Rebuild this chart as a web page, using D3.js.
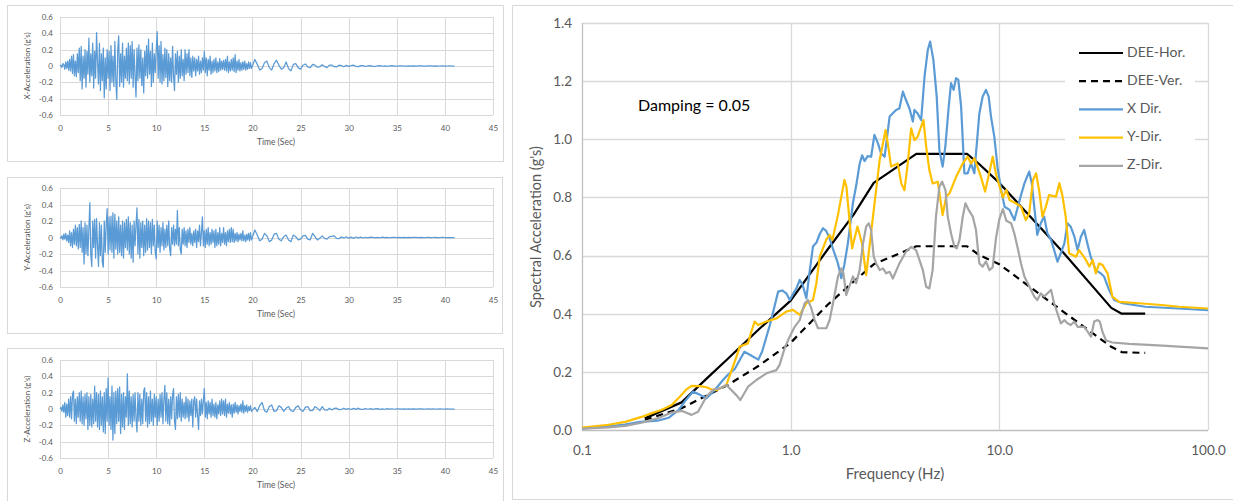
<!DOCTYPE html>
<html>
<head>
<meta charset="utf-8">
<script src="https://cdn.jsdelivr.net/npm/d3@7"></script>
<style>
  body { margin: 0; background: #fff; }
  svg { display: block; font-family: Lato, "Open Sans", sans-serif; }
</style>
</head>
<body>
<div id="chart"></div>
<script>
// ---- Time histories: 0-20 s sampled every 0.1 s, then a 0.25 s tail to 41 s ----
var DT_STRONG = 0.1, TAIL_START = 20.25, DT_TAIL = 0.25;

var accX = [
  0, 0.01, -0.02, 0.03, 0.02, -0.04, 0.05, -0.03, 0.06, -0.05,
  0.08, -0.06, 0.12, -0.09, 0.14, -0.12, 0.06, -0.13, 0.15, -0.08,
  0.22, -0.18, 0.24, -0.28, 0.12, -0.15, 0.2, -0.26, 0.18, -0.1,
  0.34, -0.2, 0.15, -0.12, 0.28, -0.27, 0.18, -0.15, 0.41, 0.05,
  -0.22, 0.28, -0.3, 0.15, -0.18, 0.22, -0.39, 0.1, -0.28, 0.2,
  -0.15, 0.18, -0.3, 0.25, -0.2, 0.12, -0.25, 0.3, -0.18, -0.41,
  0.2, 0.37, -0.25, 0.15, -0.2, 0.28, -0.26, 0.12, -0.15, 0.22,
  -0.18, 0.28, -0.22, 0.25, -0.15, 0.3, -0.26, 0.2, -0.12, -0.38,
  0.22, -0.18, 0.26, -0.15, 0.2, -0.24, 0.1, -0.33, 0.18, -0.12,
  0.25, -0.15, 0.33, -0.1, 0.18, -0.25, 0.28, -0.2, 0.15, -0.08,
  0.2, 0.42, -0.15, 0.25, -0.2, 0.3, -0.22, 0.14, -0.18, 0.22,
  -0.14, 0.2, -0.25, 0.15, -0.18, 0.1, -0.2, 0.24, -0.12, -0.3,
  0.15, -0.1, 0.18, -0.2, 0.12, -0.15, 0.2, -0.12, 0.08, -0.18,
  0.2, -0.1, 0.15, -0.08, 0.2, -0.12, 0.1, -0.14, 0.12, -0.06,
  0.1, -0.12, 0.08, -0.06, 0.12, -0.1, 0.06, -0.08, 0.1, -0.05,
  0.18, -0.08, 0.1, -0.12, 0.08, -0.05, 0.12, -0.1, 0.06, -0.08,
  0.08, -0.06, 0.1, -0.08, 0.05, -0.07, 0.09, -0.05, 0.06, -0.04,
  0.07, -0.05, 0.08, -0.06, 0.12, -0.08, 0.05, -0.06, 0.08, -0.05,
  0.1, -0.07, 0.14, -0.08, 0.06, -0.05, 0.08, -0.06, 0.04, -0.05,
  0.05, -0.04, 0.06, -0.05, 0.03, -0.04, 0.05, -0.03, 0.04, -0.03
];
var accXTail = [
  0.08, 0.02, -0.05, -0.03, 0.04, 0.06, -0.02, -0.05,
  0.03, 0.07, 0.01, -0.04, -0.02, 0.05, -0.03, -0.06,
  0.02, 0.03, -0.02, -0.04, 0.01, 0.025, -0.01, -0.02,
  0.02, 0.01, -0.015, -0.01, 0.015, -0.005, -0.02, 0.01,
  0.012, -0.008, -0.012, 0.01, 0.006, -0.01, 0.008, -0.004,
  0.006, 0.012, -0.006, -0.008, 0.005, 0.004, -0.006, 0.003,
  0.005, -0.004, -0.006, 0.003, 0.005, -0.003, 0.002, -0.004,
  0.003, 0.004, -0.002, -0.003, 0.002, 0.003, -0.002, -0.001,
  0.002, -0.002, 0.001, -0.002, 0.002, 0.001, -0.001, -0.002,
  0.001, 0.001, -0.001, 0.001, -0.001, 0, 0.001, -0.001,
  0, 0.001, 0, 0
];

var accY = [
  0, -0.01, 0.02, -0.03, 0.04, -0.02, 0.05, -0.04, 0.03, -0.06,
  0.08, -0.1, 0.06, -0.12, 0.1, -0.08, 0.15, -0.1, 0.12, -0.14,
  0.16, -0.12, 0.2, -0.18, 0.12, -0.32, 0.18, -0.2, 0.15, -0.22,
  0.1, 0.42, -0.2, -0.35, 0.2, -0.12, 0.22, -0.25, 0.23, -0.1,
  -0.35, 0.18, -0.22, 0.15, -0.3, -0.36, 0.2, -0.18, 0.15, 0.35,
  -0.2, 0.25, -0.15, 0.26, -0.18, 0.3, -0.25, 0.28, -0.14, 0.2,
  -0.2, 0.25, -0.18, 0.15, -0.22, 0.2, -0.25, 0.18, -0.12, 0.22,
  -0.15, 0.25, -0.2, 0.18, -0.25, 0.15, -0.3, 0.2, -0.1, 0.15,
  0.36, -0.2, 0.22, -0.25, 0.18, -0.12, 0.2, -0.22, 0.15, -0.18,
  0.23, -0.15, 0.2, -0.12, 0.18, -0.2, 0.22, -0.1, 0.15, -0.18,
  -0.26, 0.2, -0.12, 0.15, -0.18, 0.12, -0.1, 0.18, -0.15, 0.1,
  -0.12, 0.15, -0.1, 0.2, -0.14, -0.22, 0.12, -0.08, 0.15, -0.1,
  0.1, -0.08, 0.33, -0.1, 0.12, -0.15, -0.2, 0.1, -0.08, 0.12,
  -0.1, 0.08, -0.12, 0.1, -0.06, 0.12, -0.08, 0.05, -0.1, 0.08,
  -0.06, 0.1, -0.12, 0.08, -0.05, 0.15, -0.1, 0.06, 0.25, -0.1,
  0.08, -0.12, 0.1, -0.08, 0.12, -0.1, 0.06, -0.08, 0.1, -0.06,
  0.08, -0.12, 0.1, -0.1, 0.06, -0.08, 0.12, -0.1, 0.05, -0.06,
  0.12, -0.08, 0.06, -0.1, 0.08, -0.05, 0.1, -0.06, 0.12, -0.05,
  0.1, -0.06, 0.05, -0.04, 0.06, -0.05, 0.04, -0.03, 0.05, -0.04,
  0.08, -0.04, 0.03, -0.05, 0.04, -0.03, 0.05, -0.04, 0.06, -0.03
];
var accYTail = [
  0.09, 0.03, -0.04, -0.02, 0.05, 0.02, -0.05, -0.03,
  0.04, 0.05, -0.02, -0.04, 0.01, 0.03, -0.03, -0.05,
  0.03, 0.01, -0.03, -0.02, 0.02, 0.025, -0.02, -0.03,
  0.05, 0.01, -0.03, -0.01, 0.02, -0.01, -0.02, 0.01,
  0.015, 0.02, -0.01, -0.015, 0.008, -0.006, 0.01, -0.008,
  0.005, -0.01, 0.006, -0.005, 0.004, -0.006, 0.003, -0.004,
  0.004, 0.003, -0.004, 0.002, -0.003, 0.004, -0.002, 0.002,
  -0.003, 0.002, 0.003, -0.002, 0.001, -0.002, 0.002, -0.001,
  0.001, -0.002, 0.001, 0.001, -0.001, 0.001, -0.001, 0,
  0.001, -0.001, 0, 0.001, -0.001, 0, 0.001, 0,
  0, -0.001, 0, 0
];

var accZ = [
  0, 0.02, -0.03, 0.05, -0.04, 0.08, -0.1, 0.06, -0.08, 0.12,
  -0.1, 0.15, -0.12, 0.18, 0.22, -0.15, 0.12, -0.18, 0.15, -0.1,
  0.2, -0.15, 0.22, -0.18, 0.15, -0.2, 0.18, -0.12, 0.2, -0.25,
  0.15, -0.2, 0.18, -0.22, 0.12, -0.18, 0.28, -0.15, 0.2, -0.22,
  0.18, -0.25, 0.22, -0.2, 0.15, -0.28, 0.2, -0.3, 0.25, -0.15,
  0.38, -0.2, 0.15, -0.25, 0.28, -0.38, 0.2, -0.3, 0.22, -0.18,
  0.25, -0.15, 0.27, -0.3, 0.18, -0.22, 0.2, -0.25, 0.15, -0.1,
  0.43, -0.2, 0.22, -0.18, 0.15, -0.22, 0.18, -0.15, 0.2, -0.12,
  -0.28, 0.2, -0.15, 0.18, -0.2, 0.12, -0.18, 0.22, 0.26, -0.15,
  0.2, -0.22, 0.15, -0.18, 0.22, -0.15, 0.12, -0.2, 0.18, -0.1,
  0.15, -0.2, 0.12, -0.15, 0.18, -0.1, 0.2, -0.18, 0.12, 0.29,
  -0.15, 0.2, -0.18, 0.12, -0.2, 0.15, -0.12, 0.18, 0.25, -0.15,
  -0.25, 0.15, -0.12, 0.18, -0.1, 0.2, -0.15, 0.12, -0.1, 0.08,
  -0.12, 0.15, -0.1, 0.12, -0.15, 0.1, -0.08, 0.12, -0.22, 0.1,
  0.15, -0.1, 0.12, -0.08, -0.25, 0.1, -0.08, 0.12, -0.06, 0.1,
  0.25, -0.1, 0.08, -0.12, 0.1, -0.06, 0.08, -0.1, 0.12, -0.08,
  0.06, -0.1, 0.08, -0.12, 0.05, -0.06, 0.1, -0.08, 0.12, -0.06,
  0.1, -0.08, 0.12, -0.1, 0.06, -0.05, 0.08, -0.06, 0.05, -0.1,
  0.06, -0.05, 0.08, -0.04, 0.05, -0.06, 0.04, -0.03, 0.06, -0.04,
  0.1, -0.05, 0.04, -0.03, 0.05, -0.04, 0.03, -0.02, 0.04, -0.03
];
var accZTail = [
  0.02, -0.03, 0.04, 0.08, -0.02, -0.04, 0.03, 0.05,
  -0.03, -0.02, 0.04, 0.02, -0.03, 0.01, 0.03, -0.02,
  -0.03, 0.02, 0.04, -0.01, -0.03, 0.02, 0.03, -0.02,
  -0.02, 0.03, 0.01, -0.02, 0.03, -0.01, -0.015, 0.01,
  -0.012, 0.008, 0.01, -0.008, -0.006, 0.01, -0.005, 0.006,
  -0.006, 0.008, -0.004, 0.01, -0.005, -0.004, 0.006, -0.003,
  0.004, -0.005, 0.003, 0.005, -0.004, 0.002, -0.003, 0.004,
  -0.002, 0.003, -0.003, 0.002, 0.002, -0.002, 0.001, -0.002,
  0.002, -0.001, 0.001, -0.002, 0.001, 0.002, -0.001, 0,
  0.001, -0.001, 0.001, 0, -0.001, 0.001, 0, -0.001,
  0.001, 0, 0, 0
];

var histTimeTicks = [0, 5, 10, 15, 20, 25, 30, 35, 40, 45];
var histAccTicks = [-0.6, -0.4, -0.2, 0, 0.2, 0.4, 0.6];

// ---- Response spectra: [frequency (Hz), spectral acceleration (g)] ----
var deeHor = [
  [0.2, 0.04], [0.3, 0.095], [0.4, 0.18], [0.5, 0.245], [0.7, 0.345], [1.0, 0.445],
  [1.5, 0.62], [2.0, 0.74], [2.5, 0.85], [4.0, 0.95], [7.0, 0.95], [8.0, 0.915],
  [10, 0.85], [20, 0.615], [34.4, 0.42], [38.6, 0.40], [50, 0.40]
];
var deeVer = [
  [0.2, 0.035], [0.3, 0.075], [0.4, 0.12], [0.5, 0.155], [0.7, 0.22], [1.0, 0.30],
  [1.5, 0.43], [2.0, 0.51], [2.5, 0.57], [4.0, 0.632], [7.0, 0.632], [8.0, 0.602],
  [10, 0.57], [20, 0.41], [34.4, 0.286], [38.6, 0.268], [50, 0.265]
];
var xDir = [
  [0.1, 0.005], [0.13, 0.012], [0.16, 0.019], [0.19, 0.028], [0.23, 0.032], [0.26, 0.042],
  [0.29, 0.068], [0.31, 0.097], [0.34, 0.132], [0.37, 0.12], [0.395, 0.109], [0.43, 0.135],
  [0.474, 0.172], [0.5, 0.19], [0.54, 0.21], [0.57, 0.241], [0.60, 0.269], [0.64, 0.258],
  [0.70, 0.242], [0.73, 0.27], [0.795, 0.361], [0.84, 0.43], [0.871, 0.476], [0.91, 0.48],
  [0.953, 0.47], [0.99, 0.447], [1.03, 0.47], [1.066, 0.487], [1.105, 0.516], [1.14, 0.50],
  [1.189, 0.453], [1.23, 0.54], [1.279, 0.631], [1.33, 0.645], [1.38, 0.675], [1.428, 0.694],
  [1.48, 0.685], [1.537, 0.659], [1.6, 0.62], [1.685, 0.573], [1.749, 0.522], [1.81, 0.57],
  [1.88, 0.642], [1.987, 0.78], [2.06, 0.84], [2.14, 0.915], [2.2, 0.945], [2.26, 0.925],
  [2.34, 0.942], [2.43, 0.94], [2.52, 1.015], [2.62, 0.986], [2.71, 0.952], [2.82, 0.94],
  [2.98, 1.078], [3.2, 1.101], [3.32, 1.106], [3.45, 1.164], [3.57, 1.135], [3.71, 1.106],
  [3.85, 1.061], [3.92, 1.101], [4.06, 1.089], [4.22, 1.066], [4.38, 1.215], [4.54, 1.307],
  [4.66, 1.336], [4.83, 1.273], [5.01, 1.147], [5.16, 0.963], [5.35, 0.906], [5.51, 0.975],
  [5.72, 1.112], [5.87, 1.193], [6.04, 1.17], [6.2, 1.21], [6.36, 1.204], [6.56, 1.112],
  [6.8, 0.883], [7.05, 0.883], [7.32, 0.917], [7.59, 0.883], [8.02, 1.089], [8.32, 1.147],
  [8.63, 1.17], [8.89, 1.147], [9.12, 1.078], [9.46, 1.009], [9.82, 0.9], [10.2, 0.826],
  [10.6, 0.768], [11.2, 0.757], [11.8, 0.722], [12.7, 0.808], [13.2, 0.849], [13.9, 0.889],
  [14.3, 0.849], [14.7, 0.768], [15.2, 0.671], [15.8, 0.711], [16.4, 0.734], [17.0, 0.676],
  [17.7, 0.654], [18.3, 0.619], [19.0, 0.579], [19.7, 0.608], [20.5, 0.642], [21.2, 0.711],
  [22.0, 0.699], [22.9, 0.665], [23.7, 0.619], [24.6, 0.665], [25.5, 0.688], [26.4, 0.642],
  [27.4, 0.596], [29.0, 0.55], [30.6, 0.539], [31.8, 0.527], [33.6, 0.481], [35.5, 0.447],
  [38.9, 0.436], [50, 0.424], [72, 0.418], [100, 0.412]
];
var yDir = [
  [0.1, 0.008], [0.134, 0.018], [0.161, 0.028], [0.193, 0.045], [0.216, 0.058], [0.24, 0.069],
  [0.269, 0.086], [0.295, 0.115], [0.317, 0.14], [0.335, 0.152], [0.367, 0.151], [0.395, 0.147],
  [0.415, 0.14], [0.44, 0.137], [0.492, 0.155], [0.55, 0.252], [0.57, 0.287], [0.624, 0.298],
  [0.648, 0.338], [0.672, 0.373], [0.697, 0.361], [0.764, 0.373], [0.855, 0.384], [0.953, 0.407],
  [1.026, 0.413], [1.105, 0.396], [1.189, 0.436], [1.279, 0.447], [1.328, 0.505], [1.378, 0.596],
  [1.48, 0.654], [1.537, 0.671], [1.585, 0.654], [1.685, 0.74], [1.81, 0.86], [1.85, 0.837],
  [1.91, 0.728], [1.97, 0.625], [2.09, 0.70], [2.2, 0.64], [2.30, 0.533], [2.48, 0.734],
  [2.67, 0.929], [2.85, 1.032], [2.92, 0.986], [3.03, 0.906], [3.26, 0.917], [3.39, 0.848],
  [3.51, 0.825], [3.64, 0.917], [3.78, 1.038], [3.92, 0.997], [4.06, 1.009], [4.33, 1.066],
  [4.46, 0.975], [4.62, 0.894], [4.79, 0.848], [5.07, 0.854], [5.35, 0.739], [5.56, 0.802],
  [5.77, 0.814], [6.21, 0.871], [6.68, 0.917], [7.06, 0.94], [7.32, 0.917], [7.6, 0.935],
  [8.17, 0.87], [8.55, 0.82], [9.3, 0.94], [9.64, 0.88], [10.0, 0.84], [10.4, 0.80],
  [10.8, 0.826], [11.2, 0.791], [12.0, 0.78], [12.7, 0.768], [13.4, 0.722], [13.9, 0.745],
  [14.5, 0.86], [15.0, 0.883], [15.5, 0.826], [16.1, 0.734], [16.7, 0.768], [17.3, 0.808],
  [18.7, 0.803], [19.4, 0.849], [20.1, 0.803], [20.8, 0.734], [21.6, 0.608], [23.3, 0.596],
  [24.1, 0.619], [26.0, 0.585], [27.0, 0.562], [28.0, 0.585], [29.0, 0.539], [30.1, 0.573],
  [31.2, 0.568], [33.0, 0.539], [34.8, 0.459], [37.5, 0.441], [46.7, 0.436], [60, 0.43],
  [72.6, 0.424], [100, 0.418]
];
var zDir = [
  [0.1, 0.005], [0.134, 0.009], [0.161, 0.014], [0.193, 0.025], [0.23, 0.04], [0.269, 0.06],
  [0.30, 0.066], [0.335, 0.052], [0.36, 0.063], [0.395, 0.115], [0.425, 0.138], [0.457, 0.143],
  [0.492, 0.155], [0.549, 0.12], [0.574, 0.103], [0.625, 0.149], [0.685, 0.172], [0.766, 0.195],
  [0.854, 0.206], [0.885, 0.224], [0.935, 0.281], [0.989, 0.321], [1.045, 0.355], [1.105, 0.378],
  [1.167, 0.436], [1.21, 0.447], [1.256, 0.419], [1.303, 0.378], [1.352, 0.35], [1.482, 0.35],
  [1.537, 0.378], [1.606, 0.447], [1.686, 0.528], [1.748, 0.556], [1.79, 0.539], [1.846, 0.464],
  [1.987, 0.528], [2.06, 0.505], [2.14, 0.55], [2.22, 0.64], [2.30, 0.70], [2.37, 0.711],
  [2.43, 0.688], [2.50, 0.596], [2.57, 0.573], [2.67, 0.55], [2.77, 0.556], [2.87, 0.539],
  [2.98, 0.544], [3.09, 0.521], [3.32, 0.573], [3.57, 0.613], [3.78, 0.63], [3.99, 0.619],
  [4.14, 0.585], [4.30, 0.55], [4.46, 0.493], [4.62, 0.487], [4.79, 0.55], [4.97, 0.734],
  [5.16, 0.837], [5.32, 0.854], [5.52, 0.825], [5.66, 0.734], [5.87, 0.676], [6.09, 0.63],
  [6.25, 0.625], [6.44, 0.653], [6.68, 0.734], [6.88, 0.78], [7.13, 0.757], [7.46, 0.734],
  [7.73, 0.688], [8.02, 0.573], [8.32, 0.562], [8.63, 0.58], [8.96, 0.55], [9.29, 0.56],
  [9.64, 0.66], [10.0, 0.725], [10.4, 0.76], [10.8, 0.72], [11.4, 0.711], [11.8, 0.676],
  [12.2, 0.631], [12.7, 0.573], [13.2, 0.527], [13.7, 0.504], [14.7, 0.459], [15.2, 0.447],
  [15.8, 0.47], [16.4, 0.459], [17.7, 0.482], [18.3, 0.436], [19.0, 0.401], [19.7, 0.367],
  [20.5, 0.378], [21.2, 0.367], [22.0, 0.361], [22.9, 0.373], [23.7, 0.355], [25.5, 0.355],
  [26.5, 0.338], [27.5, 0.321], [28.5, 0.373], [29.6, 0.378], [30.3, 0.373], [31.2, 0.338],
  [32.4, 0.309], [34.8, 0.301], [41.9, 0.296], [60.5, 0.29], [100, 0.281]
];
var freqTicks = [0.1, 1, 10, 100];
var saTicks = [0, 0.2, 0.4, 0.6, 0.8, 1.0, 1.2, 1.4];
var seriesNames = ["DEE-Hor.", "DEE-Ver.", "X Dir.", "Y-Dir.", "Z-Dir."];

var gridColor = "#d9d9d9";
var textColor = "#595959";

var svg = d3.select("#chart").append("svg")
    .attr("width", 1233)
    .attr("height", 501);

// Build [t, acc] points from the two sampling segments
function toPoints(strong, tail) {
    var pts = strong.map(function(a, i) { return [i * DT_STRONG, a]; });
    tail.forEach(function(a, j) { pts.push([TAIL_START + j * DT_TAIL, a]); });
    return pts;
}

// ---- Left: three acceleration time histories ----
var histPanels = [
    { label: "X-Acceleration (g's)", strong: accX, tail: accXTail, box: [7, 5, 496, 156], top: 17, bottom: 115 },
    { label: "Y-Acceleration (g's)", strong: accY, tail: accYTail, box: [7, 177, 495, 156], top: 188, bottom: 287 },
    { label: "Z-Acceleration (g's)", strong: accZ, tail: accZTail, box: [7, 348, 496, 160], top: 360, bottom: 458 }
];

histPanels.forEach(function(p) {
    var g = svg.append("g");

    g.append("rect")
        .attr("x", p.box[0] + 0.5).attr("y", p.box[1] + 0.5)
        .attr("width", p.box[2]).attr("height", p.box[3])
        .attr("fill", "#fff").attr("stroke", gridColor);

    var x = d3.scaleLinear().domain([0, 45]).range([60, 493]);
    var y = d3.scaleLinear().domain([-0.6, 0.6]).range([p.bottom, p.top]);

    // Gridlines
    g.selectAll(".hgrid").data(histAccTicks).enter().append("line")
        .attr("x1", x(0)).attr("x2", x(45))
        .attr("y1", d => Math.round(y(d)) + 0.5).attr("y2", d => Math.round(y(d)) + 0.5)
        .attr("stroke", gridColor);
    g.selectAll(".vgrid").data(histTimeTicks).enter().append("line")
        .attr("x1", d => Math.round(x(d)) + 0.5).attr("x2", d => Math.round(x(d)) + 0.5)
        .attr("y1", y(0.6)).attr("y2", y(-0.6))
        .attr("stroke", gridColor);

    // Axes (labels only)
    var leftAxis = d3.axisLeft(y).tickValues(histAccTicks).tickSize(0).tickPadding(7)
        .tickFormat(d => d === 0 ? "0" : String(+d.toFixed(1)));
    var bottomAxis = d3.axisBottom(x).tickValues(histTimeTicks).tickSize(0).tickPadding(10);

    var ga = g.append("g").attr("transform", "translate(60,0)").call(leftAxis);
    var gb = g.append("g").attr("transform", `translate(0,${p.bottom})`).call(bottomAxis);
    [ga, gb].forEach(function(a) {
        a.select(".domain").remove();
        a.selectAll("text").attr("fill", textColor).style("font-size", "8px")
            .style("font-family", "Lato, 'Open Sans', sans-serif");
    });

    // Signal
    var line = d3.line().x(d => x(d[0])).y(d => y(d[1]));
    g.append("path")
        .datum(toPoints(p.strong, p.tail))
        .attr("d", line)
        .attr("fill", "none")
        .attr("stroke", "#5b9bd5")
        .attr("stroke-width", 1.25)
        .attr("stroke-linejoin", "round");

    // Titles
    g.append("text")
        .attr("transform", `translate(28,${(p.top + p.bottom) / 2}) rotate(-90)`)
        .attr("text-anchor", "middle")
        .attr("dominant-baseline", "middle")
        .attr("fill", textColor)
        .style("font-size", "8px")
        .text(p.label);

    g.append("text")
        .attr("x", 276).attr("y", p.bottom + 28)
        .attr("text-anchor", "middle")
        .attr("dominant-baseline", "middle")
        .attr("fill", textColor)
        .style("font-size", "8.5px")
        .text("Time (Sec)");
});

// ---- Right: response spectra ----
var spec = svg.append("g");

spec.append("rect")
    .attr("x", 512.5).attr("y", 5.5)
    .attr("width", 730).attr("height", 494)
    .attr("fill", "#fff").attr("stroke", gridColor);

var xS = d3.scaleLog().domain([0.1, 100]).range([582, 1208]);
var yS = d3.scaleLinear().domain([0, 1.4]).range([430, 23]);

spec.selectAll(".hgrid").data(saTicks).enter().append("line")
    .attr("x1", xS(0.1)).attr("x2", xS(100))
    .attr("y1", d => Math.round(yS(d)) + 0.5).attr("y2", d => Math.round(yS(d)) + 0.5)
    .attr("stroke", d => d === 0 ? "#bfbfbf" : gridColor)
    .attr("stroke-width", 1.3);

spec.selectAll(".vgrid").data(freqTicks).enter().append("line")
    .attr("x1", d => Math.round(xS(d)) + 0.5).attr("x2", d => Math.round(xS(d)) + 0.5)
    .attr("y1", yS(1.4)).attr("y2", yS(0))
    .attr("stroke", d => d === 0.1 ? "#bfbfbf" : gridColor)
    .attr("stroke-width", 1.3);

var specLeft = d3.axisLeft(yS).tickValues(saTicks).tickSize(0).tickPadding(10)
    .tickFormat(d3.format(".1f"));
var specBottom = d3.axisBottom(xS).tickValues(freqTicks).tickSize(0).tickPadding(15)
    .tickFormat(d3.format(".1f"));

var sa = spec.append("g").attr("transform", "translate(582,0)").call(specLeft);
var sb = spec.append("g").attr("transform", "translate(0,430)").call(specBottom);
[sa, sb].forEach(function(a) {
    a.select(".domain").remove();
    a.selectAll("text").attr("fill", textColor).style("font-size", "13.5px")
        .style("font-family", "Lato, 'Open Sans', sans-serif");
});

spec.append("text")
    .attr("transform", "translate(537,227) rotate(-90)")
    .attr("text-anchor", "middle")
    .attr("dominant-baseline", "middle")
    .attr("fill", textColor)
    .style("font-size", "14.5px")
    .text("Spectral Acceleration (g's)");

spec.append("text")
    .attr("x", 895).attr("y", 475)
    .attr("text-anchor", "middle")
    .attr("dominant-baseline", "middle")
    .attr("fill", textColor)
    .style("font-size", "15px")
    .text("Frequency (Hz)");

spec.append("text")
    .attr("x", 638).attr("y", 107)
    .attr("dominant-baseline", "middle")
    .attr("fill", "#000")
    .style("font-size", "16px")
    .text("Damping = 0.05");

var seriesData = [deeHor, deeVer, xDir, yDir, zDir];
var seriesStyle = [
    { color: "#000000", width: 2.2, dash: null },
    { color: "#000000", width: 2.2, dash: "7,5" },
    { color: "#5b9bd5", width: 2.2, dash: null },
    { color: "#ffc000", width: 2.2, dash: null },
    { color: "#a5a5a5", width: 2.2, dash: null }
];

var specLine = d3.line().x(d => xS(d[0])).y(d => yS(d[1]));

seriesData.forEach(function(data, i) {
    spec.append("path")
        .datum(data)
        .attr("d", specLine)
        .attr("fill", "none")
        .attr("stroke", seriesStyle[i].color)
        .attr("stroke-width", seriesStyle[i].width)
        .attr("stroke-dasharray", seriesStyle[i].dash)
        .attr("stroke-linejoin", "round");
});

// Legend
var legend = spec.append("g");
legend.append("rect")
    .attr("x", 1065).attr("y", 38)
    .attr("width", 130).attr("height", 142)
    .attr("fill", "#fff");

var items = legend.selectAll(".item").data(seriesNames).enter().append("g")
    .attr("transform", (d, i) => `translate(0,${53 + i * 28.2})`);

items.append("line")
    .attr("x1", 1079).attr("x2", 1123)
    .attr("stroke", (d, i) => seriesStyle[i].color)
    .attr("stroke-width", (d, i) => seriesStyle[i].width)
    .attr("stroke-dasharray", (d, i) => seriesStyle[i].dash);

items.append("text")
    .attr("x", 1127)
    .attr("dominant-baseline", "middle")
    .attr("fill", textColor)
    .style("font-size", "14px")
    .text(d => d);
</script>
</body>
</html>
